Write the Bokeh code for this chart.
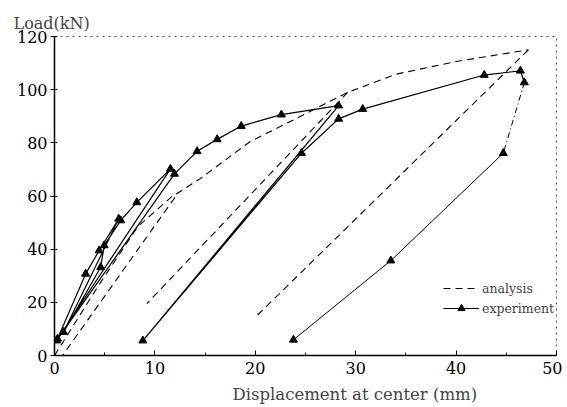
from bokeh.plotting import figure
from bokeh.models import SingleIntervalTicker, Title, Legend, LegendItem, Range1d
from bokeh.embed import file_html
from bokeh.resources import INLINE

# ---- data ----
# experiment: load path (displacement mm, load kN), every vertex is a measured point
exp_x = [0.3, 3.1, 4.45, 6.4, 0.9, 4.6, 4.95, 6.6, 8.2, 11.55, 0.2, 11.95, 14.2, 16.2,
         18.6, 22.6, 28.3, 8.8, 24.6, 28.3, 30.7, 42.8, 46.4, 46.8, 44.7, 33.5, 23.8]
exp_y = [6.3, 30.7, 39.5, 51.4, 8.8, 33.2, 41.4, 50.8, 57.6, 70.2, 5.6, 68.3, 76.8, 81.3,
         86.3, 90.6, 94.0, 5.6, 76.1, 89.0, 92.7, 105.5, 107.1, 102.7, 76.1, 35.7, 5.9]
# index range of the dash-dot unloading segment
dashdot_from, dashdot_to = 23, 24

# analysis: envelope curve
ana_env_x = [0.0, 4.5, 8.3, 11.6, 14.5, 19.5, 24.0, 29.2, 34.0, 40.0, 47.2]
ana_env_y = [0.0, 27.0, 48.5, 59.5, 66.5, 80.5, 89.0, 99.0, 105.8, 110.6, 115.0]
# analysis: unloading lines
ana_unl_x = [[12.0, 0.8], [29.2, 9.2], [47.2, 19.9]]
ana_unl_y = [[59.5, 0.0], [99.0, 19.5], [115.0, 14.0]]

x_ticks_interval = 10
y_ticks_interval = 20

FONT = "DejaVu Serif"

p = figure(frame_width=502, frame_height=319,
           x_range=Range1d(0, 50), y_range=Range1d(0, 120),
           output_backend="svg", toolbar_location=None,
           min_border_left=54, min_border_right=6, min_border_top=36, min_border_bottom=2)
p.xgrid.visible = False
p.ygrid.visible = False
p.background_fill_color = "white"
p.border_fill_color = "white"
p.outline_line_color = "#555555"
p.outline_line_dash = "dotted"
p.outline_line_width = 1

# axes
p.xaxis.ticker = SingleIntervalTicker(interval=x_ticks_interval, num_minor_ticks=2)
p.yaxis.ticker = SingleIntervalTicker(interval=y_ticks_interval, num_minor_ticks=0)
for ax in (p.xaxis[0], p.yaxis[0]):
    ax.axis_line_color = "black"
    ax.axis_line_width = 1.5
    ax.major_tick_line_color = "black"
    ax.minor_tick_line_color = "black"
    ax.major_label_text_font = FONT
    ax.major_label_text_font_size = "16px"
    ax.major_label_text_color = "black"
p.xaxis.major_tick_in = 5
p.xaxis.major_tick_out = 0
p.xaxis.minor_tick_in = 3
p.xaxis.minor_tick_out = 0
p.xaxis.major_label_standoff = 6
p.yaxis.major_tick_in = 3
p.yaxis.major_tick_out = 4
p.yaxis.minor_tick_in = 0
p.yaxis.minor_tick_out = 0
p.yaxis.major_label_standoff = 3

# titles as axis captions
p.add_layout(Title(text="Load(kN)", align="left", offset=-41, text_font=FONT,
                   text_font_size="16px", text_font_style="normal", standoff=8), "above")
p.add_layout(Title(text="Displacement at center (mm)", align="left", offset=178,
                   text_font=FONT, text_font_size="16.5px", text_font_style="normal",
                   standoff=12), "below")

# analysis
r_ana = p.line(ana_env_x, ana_env_y, line_color="black", line_width=1.1, line_dash="7 5")
p.multi_line(ana_unl_x, ana_unl_y, line_color="black", line_width=1.1, line_dash="7 5")

# experiment
r_exp = p.line(exp_x[:dashdot_from + 1], exp_y[:dashdot_from + 1], line_color="black", line_width=1.2)
p.line(exp_x[dashdot_from:dashdot_to + 1], exp_y[dashdot_from:dashdot_to + 1],
       line_color="black", line_width=1.0, line_dash="6 3 1 3")
p.line(exp_x[dashdot_to:], exp_y[dashdot_to:], line_color="black", line_width=1.0)
r_mk = p.scatter(exp_x, exp_y, marker="triangle", size=8, fill_color="black", line_color="black")

legend = Legend(items=[LegendItem(label="analysis", renderers=[r_ana]),
                       LegendItem(label="experiment", renderers=[r_exp, r_mk])],
                location=(389, 38))
legend.background_fill_alpha = 0
legend.border_line_alpha = 0
legend.label_text_font = FONT
legend.label_text_font_size = "12.5px"
legend.glyph_width = 36
legend.glyph_height = 18
legend.padding = 0
legend.margin = 0
legend.spacing = 2
legend.label_standoff = 3
p.add_layout(legend)

open("out.html", "w").write(file_html(p, INLINE))
